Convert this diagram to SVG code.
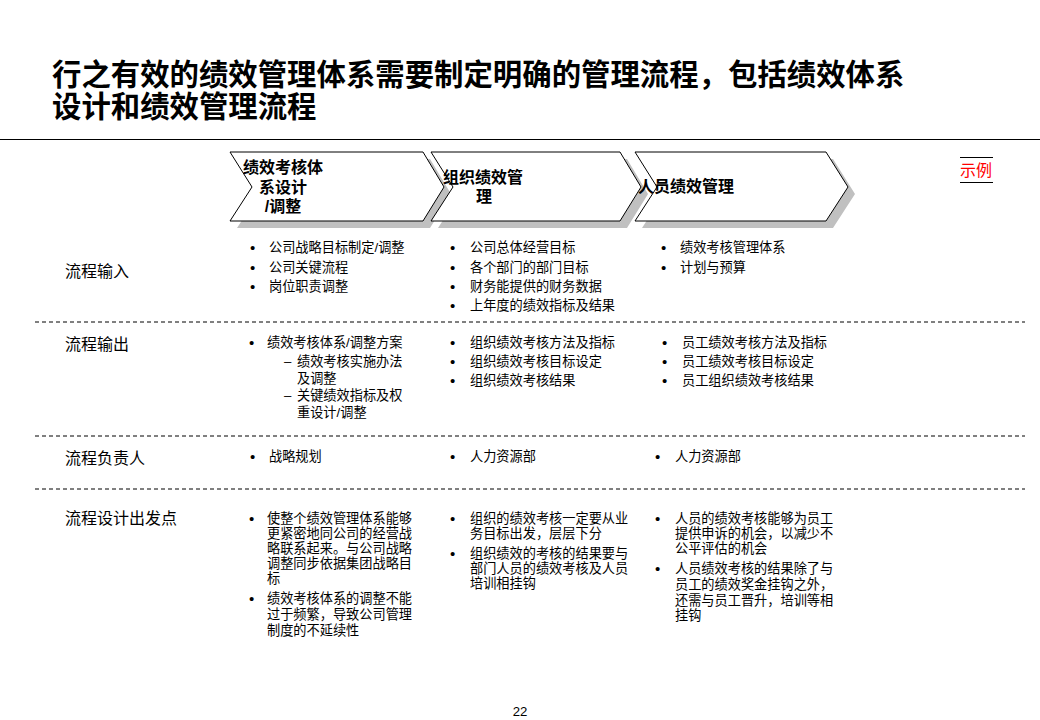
<svg xmlns="http://www.w3.org/2000/svg" width="1040" height="720" viewBox="0 0 1040 720">
<style>
text{font-family:"Liberation Sans","Noto Sans CJK SC",sans-serif;fill:#000}
.t{font-size:29.4px;font-weight:700}
.h{font-size:16px;font-weight:700}
.lbl{font-size:16px}
.b{font-size:13.2px}
.d{font-size:15px}
.chev{fill:#fff;stroke:#000;stroke-width:1}
.sh{fill:#c0c0c0}
.dash{stroke:#000;stroke-width:1;stroke-dasharray:4 3}
</style>
<rect width="1040" height="720" fill="#fff"/>
<g id="title">
<text class="t" x="52" y="85">行之有效的绩效管理体系需要制定明确的管理流程，包括绩效体系</text>
<text class="t" x="52" y="117">设计和绩效管理流程</text>
</g>
<line x1="0" y1="139.5" x2="1040" y2="139.5" stroke="#000" stroke-width="1.2"/>
<g id="chevron1">
<polygon class="sh" points="237,159 430,159 451,194 430,228 237,228 259,194"/>
<polygon class="chev" points="230,152 423,152 444,187 423,221 230,221 252,187"/>
<text class="h" x="283" y="173" text-anchor="middle">绩效考核体</text>
<text class="h" x="283" y="193" text-anchor="middle">系设计</text>
<text class="h" x="283" y="212" text-anchor="middle">/调整</text>
</g>
<g id="chevron2">
<polygon class="sh" points="438,159 627,159 648,194 627,228 438,228 460,194"/>
<polygon class="chev" points="431,152 620,152 641,187 620,221 431,221 453,187"/>
<text class="h" x="483" y="183" text-anchor="middle">组织绩效管</text>
<text class="h" x="484" y="202" text-anchor="middle">理</text>
</g>
<g id="chevron3">
<polygon class="sh" points="642,159 833,159 855,194 833,228 642,228 664,194"/>
<polygon class="chev" points="635,152 826,152 848,187 826,221 635,221 657,187"/>
<text class="h" x="638" y="192">人员绩效管理</text>
</g>
<g id="example">
<line x1="960" y1="157.5" x2="993" y2="157.5" stroke="#000" stroke-width="1.2"/>
<text x="960" y="176" style="font-size:16px;fill:#ff0000">示例</text>
<line x1="960" y1="182.5" x2="993" y2="182.5" stroke="#000" stroke-width="1.2"/>
</g>
<g id="dividers">
<line class="dash" x1="35" y1="322" x2="1025" y2="322"/>
<line class="dash" x1="35" y1="436" x2="1025" y2="436"/>
<line class="dash" x1="35" y1="489" x2="1025" y2="489"/>
</g>
<g id="labels">
<text class="lbl" x="65" y="277">流程输入</text>
<text class="lbl" x="65" y="350">流程输出</text>
<text class="lbl" x="65" y="464">流程负责人</text>
<text class="lbl" x="65" y="524">流程设计出发点</text>
</g>
<g id="row-input">
<text class="d" x="250" y="253">•</text><text class="b" x="269" y="252">公司战略目标制定/调整</text>
<text class="d" x="250" y="273">•</text><text class="b" x="269" y="272">公司关键流程</text>
<text class="d" x="250" y="292">•</text><text class="b" x="269" y="291">岗位职责调整</text>
<text class="d" x="450" y="253">•</text><text class="b" x="470" y="252">公司总体经营目标</text>
<text class="d" x="450" y="273">•</text><text class="b" x="470" y="272">各个部门的部门目标</text>
<text class="d" x="450" y="292">•</text><text class="b" x="470" y="291">财务能提供的财务数据</text>
<text class="d" x="450" y="311">•</text><text class="b" x="470" y="310">上年度的绩效指标及结果</text>
<text class="d" x="661" y="253">•</text><text class="b" x="680" y="252">绩效考核管理体系</text>
<text class="d" x="661" y="273">•</text><text class="b" x="680" y="272">计划与预算</text>
</g>
<g id="row-output">
<text class="d" x="249" y="348">•</text><text class="b" x="267" y="347">绩效考核体系/调整方案</text>
<text class="b" x="284" y="366">–</text><text class="b" x="297" y="366">绩效考核实施办法</text>
<text class="b" x="297" y="383">及调整</text>
<text class="b" x="284" y="400">–</text><text class="b" x="297" y="400">关键绩效指标及权</text>
<text class="b" x="297" y="417">重设计/调整</text>
<text class="d" x="450" y="348">•</text><text class="b" x="470" y="347">组织绩效考核方法及指标</text>
<text class="d" x="450" y="367">•</text><text class="b" x="470" y="366">组织绩效考核目标设定</text>
<text class="d" x="450" y="386">•</text><text class="b" x="470" y="385">组织绩效考核结果</text>
<text class="d" x="662" y="348">•</text><text class="b" x="682" y="347">员工绩效考核方法及指标</text>
<text class="d" x="662" y="367">•</text><text class="b" x="682" y="366">员工绩效考核目标设定</text>
<text class="d" x="662" y="386">•</text><text class="b" x="682" y="385">员工组织绩效考核结果</text>
</g>
<g id="row-owner">
<text class="d" x="250" y="462">•</text><text class="b" x="269" y="461">战略规划</text>
<text class="d" x="450" y="462">•</text><text class="b" x="470" y="461">人力资源部</text>
<text class="d" x="655" y="462">•</text><text class="b" x="675" y="461">人力资源部</text>
</g>
<g id="row-design">
<text class="d" x="249" y="524">•</text><text class="b" x="267" y="523">使整个绩效管理体系能够</text>
<text class="b" x="267" y="538">更紧密地同公司的经营战</text>
<text class="b" x="267" y="553">略联系起来。与公司战略</text>
<text class="b" x="267" y="568">调整同步依据集团战略目</text>
<text class="b" x="267" y="583">标</text>
<text class="d" x="249" y="604">•</text><text class="b" x="267" y="603">绩效考核体系的调整不能</text>
<text class="b" x="267" y="619">过于频繁，导致公司管理</text>
<text class="b" x="267" y="635">制度的不延续性</text>
<text class="d" x="450" y="524">•</text><text class="b" x="470" y="523">组织的绩效考核一定要从业</text>
<text class="b" x="470" y="538">务目标出发，层层下分</text>
<text class="d" x="450" y="559">•</text><text class="b" x="470" y="558">组织绩效的考核的结果要与</text>
<text class="b" x="470" y="573">部门人员的绩效考核及人员</text>
<text class="b" x="470" y="588">培训相挂钩</text>
<text class="d" x="655" y="524">•</text><text class="b" x="675" y="523">人员的绩效考核能够为员工</text>
<text class="b" x="675" y="538">提供申诉的机会，以减少不</text>
<text class="b" x="675" y="553">公平评估的机会</text>
<text class="d" x="655" y="574">•</text><text class="b" x="675" y="573">人员绩效考核的结果除了与</text>
<text class="b" x="675" y="589">员工的绩效奖金挂钩之外，</text>
<text class="b" x="675" y="605">还需与员工晋升，培训等相</text>
<text class="b" x="675" y="620">挂钩</text>
</g>
<text class="b" x="520" y="716" text-anchor="middle">22</text>
</svg>
